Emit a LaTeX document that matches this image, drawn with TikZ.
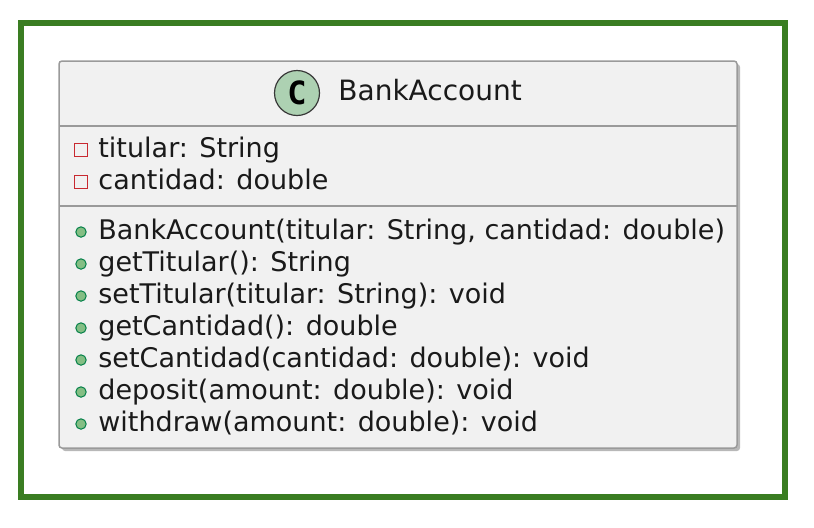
\documentclass[tikz,border=0pt]{standalone}
\usepackage{fontspec}
\setmainfont{DejaVu Sans}
\newfontfamily\spotfont{DejaVu Sans Mono}
\usepackage{tikz}
\definecolor{framegreen}{HTML}{3A7D22}
\definecolor{boxfill}{HTML}{F1F1F1}
\definecolor{boxgray}{HTML}{9A9A9A}
\definecolor{spotfill}{HTML}{ADD1B2}
\definecolor{spotborder}{HTML}{383838}
\definecolor{privred}{HTML}{C82930}
\definecolor{pubfill}{HTML}{84BE84}
\definecolor{pubborder}{HTML}{038048}
\definecolor{txtgray}{HTML}{1A1A1A}

\begin{document}
\begin{tikzpicture}[x=0.5pt,y=-0.5pt, inner sep=0pt,
  txt/.style={anchor=base west,text=txtgray,font=\fontsize{13.5}{16}\selectfont},
  head/.style={anchor=base west,text=txtgray,font=\fontsize{14}{16}\selectfont},
  priv/.style={rectangle,draw=privred,line width=0.7pt,minimum size=6.5pt},
  pub/.style={circle,draw=pubborder,fill=pubfill,line width=0.5pt,minimum size=5.2pt}]
\useasboundingbox (0,0) rectangle (814,527);
\draw[framegreen, line width=3pt] (21,23) rectangle (785,497);
\fill[black!28, rounded corners=1.5pt] (62,64) rectangle (740,451);
\draw[boxgray, fill=boxfill, line width=0.75pt, rounded corners=1.5pt] (59,61) rectangle (737,448);
\coordinate (d1l) at (59,126);
\coordinate (d1r) at (737,126);
\coordinate (d2l) at (59,206);
\coordinate (d2r) at (737,206);
\draw[boxgray, line width=0.75pt] (d1l) -- (d1r);
\draw[boxgray, line width=0.75pt] (d2l) -- (d2r);
\node (spot) at (297,93) [circle, draw=spotborder, fill=spotfill, line width=0.6pt, minimum size=22.5pt] {\spotfont\bfseries\fontsize{16}{16}\selectfont C};
\node (name) at (338,100) [head] {BankAccount};
\node (ia1) at (81,150) [priv] {};
\node (a1) at (98,157) [txt] {titular: String};
\node (ia2) at (81,182) [priv] {};
\node (a2) at (98,189) [txt] {cantidad: double};
\node (im1) at (81,232) [pub] {};
\node (m1) at (98,239) [txt] {BankAccount(titular: String, cantidad: double)};
\node (im2) at (81,264) [pub] {};
\node (m2) at (98,271) [txt] {getTitular(): String};
\node (im3) at (81,296) [pub] {};
\node (m3) at (98,303) [txt] {setTitular(titular: String): void};
\node (im4) at (81,328) [pub] {};
\node (m4) at (98,335) [txt] {getCantidad(): double};
\node (im5) at (81,360) [pub] {};
\node (m5) at (98,367) [txt] {setCantidad(cantidad: double): void};
\node (im6) at (81,392) [pub] {};
\node (m6) at (98,399) [txt] {deposit(amount: double): void};
\node (im7) at (81,424) [pub] {};
\node (m7) at (98,431) [txt] {withdraw(amount: double): void};
\end{tikzpicture}
\end{document}
